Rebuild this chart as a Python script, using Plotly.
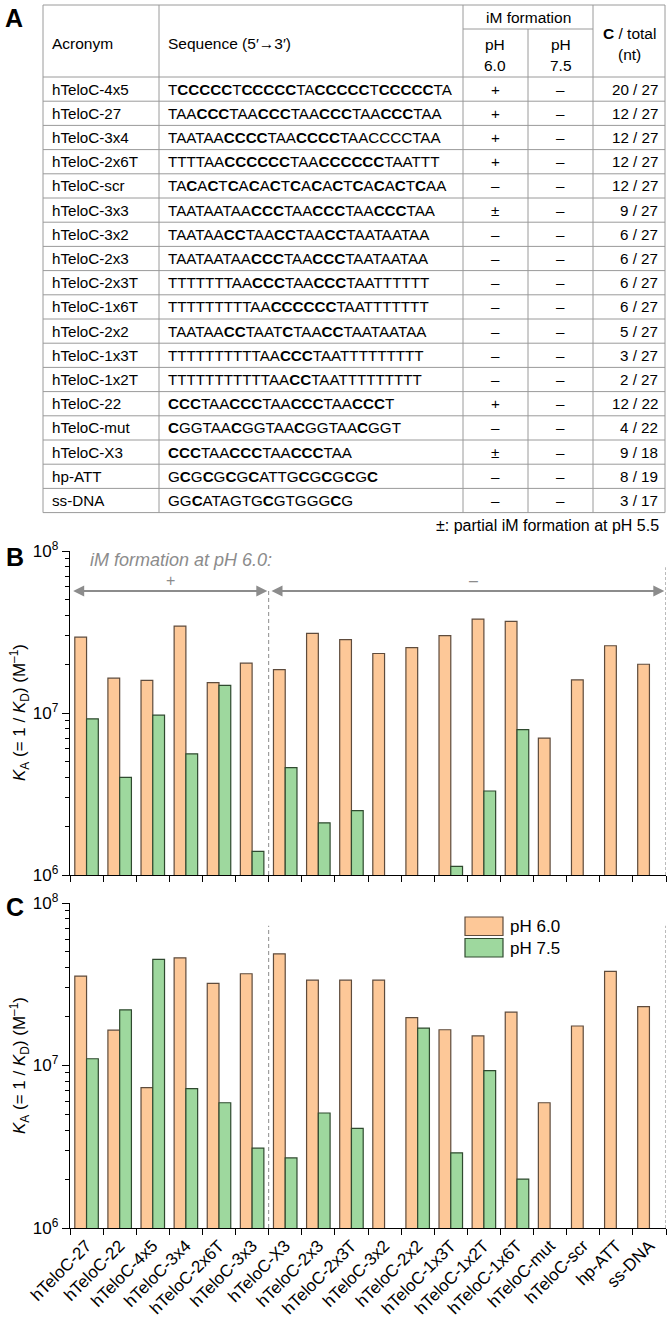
import plotly.graph_objects as go

W, H = 669, 1324

# ---------------- Panel A: table data ----------------
acronyms = ["hTeloC-4x5", "hTeloC-27", "hTeloC-3x4", "hTeloC-2x6T", "hTeloC-scr",
            "hTeloC-3x3", "hTeloC-3x2", "hTeloC-2x3", "hTeloC-2x3T", "hTeloC-1x6T",
            "hTeloC-2x2", "hTeloC-1x3T", "hTeloC-1x2T", "hTeloC-22", "hTeloC-mut",
            "hTeloC-X3", "hp-ATT", "ss-DNA"]
# {...} marks bold nucleotides
sequences = ["T{CCCCC}T{CCCCC}TA{CCCCC}T{CCCCC}TA",
             "TAA{CCC}TAA{CCC}TAA{CCC}TAA{CCC}TAA",
             "TAATAA{CCCC}TAA{CCCC}TAACCCCTAA",
             "TTTTAA{CCCCCC}TAA{CCCCCC}TAATTT",
             "TA{C}A{C}T{C}A{C}A{C}T{C}A{C}A{C}T{C}A{C}A{C}T{C}AA",
             "TAATAATAA{CCC}TAA{CCC}TAA{CCC}TAA",
             "TAATAA{CC}TAA{CC}TAA{CC}TAATAATAA",
             "TAATAATAA{CCC}TAA{CCC}TAATAATAA",
             "TTTTTTTAA{CCC}TAA{CCC}TAATTTTTT",
             "TTTTTTTTTAA{CCCCCC}TAATTTTTTT",
             "TAATAA{CC}TAAT{C}TAA{CC}TAATAATAA",
             "TTTTTTTTTTAA{CCC}TAATTTTTTTTT",
             "TTTTTTTTTTTAA{CC}TAATTTTTTTTT",
             "{CCC}TAA{CCC}TAA{CCC}TAA{CCC}T",
             "{C}GGTAA{C}GGTAA{C}GGTAA{C}GGT",
             "{CCC}TAA{CCC}TAA{CCC}TAA",
             "G{C}G{C}G{C}G{C}ATTG{C}G{C}G{C}G{C}",
             "GG{C}ATAGTG{C}GTGGG{C}G"]
im_ph60 = ["+", "+", "+", "+", "–", "±", "–", "–", "–", "–", "–", "–", "–", "+", "–", "±", "–", "–"]
im_ph75 = ["–"] * 18
c_total = ["20 / 27", "12 / 27", "12 / 27", "12 / 27", "12 / 27", "9 / 27", "6 / 27", "6 / 27",
           "6 / 27", "6 / 27", "5 / 27", "3 / 27", "2 / 27", "12 / 22", "4 / 22", "9 / 18",
           "8 / 19", "3 / 17"]

# ---------------- Panels B / C: bar data ----------------
categories = ["hTeloC-27", "hTeloC-22", "hTeloC-4x5", "hTeloC-3x4", "hTeloC-2x6T", "hTeloC-3x3",
              "hTeloC-X3", "hTeloC-2x3", "hTeloC-2x3T", "hTeloC-3x2", "hTeloC-2x2", "hTeloC-1x3T",
              "hTeloC-1x2T", "hTeloC-1x6T", "hTeloC-mut", "hTeloC-scr", "hp-ATT", "ss-DNA"]
b_ph60 = [2.94e7, 1.64e7, 1.59e7, 3.44e7, 1.54e7, 2.03e7, 1.85e7, 3.10e7, 2.84e7, 2.33e7,
          2.53e7, 3.00e7, 3.80e7, 3.68e7, 7.0e6, 1.60e7, 2.60e7, 2.00e7]
b_ph75 = [9.2e6, 4.0e6, 9.7e6, 5.6e6, 1.48e7, 1.4e6, 4.6e6, 2.1e6, 2.5e6, None,
          None, 1.13e6, 3.3e6, 7.9e6, None, None, None, None]
c_ph60 = [3.55e7, 1.65e7, 7.3e6, 4.6e7, 3.2e7, 3.67e7, 4.87e7, 3.35e7, 3.35e7, 3.35e7,
          1.97e7, 1.66e7, 1.52e7, 2.13e7, 5.9e6, 1.75e7, 3.8e7, 2.3e7]
c_ph75 = [1.1e7, 2.2e7, 4.5e7, 7.2e6, 5.9e6, 3.1e6, 2.7e6, 5.1e6, 4.1e6, None,
          1.7e7, 2.9e6, 9.3e6, 2.0e6, None, None, None, None]
series_names = ["pH 6.0", "pH 7.5"]
y_tickvals = [1e6, 1e7, 1e8]
y_ticktext = ["10<sup>6</sup>", "10<sup>7</sup>", "10<sup>8</sup>"]
minor_vals = [k * 10 ** e for e in (6, 7) for k in range(2, 10)]

# ---------------- styling ----------------
FONT = "Liberation Sans, Arial, Helvetica, sans-serif"
ORANGE, ORANGE_EDGE = "#FDC898", "#5e4b3c"
GREEN, GREEN_EDGE = "#9ED89E", "#2f4a2f"
GRID = "#9a9a9a"
ARROW = "#8c8c8c"
TS = 15.2  # table font size


def px(x):
    return x / W


def py(y):
    return 1 - y / H


fig = go.Figure()

# bars
for xa, ya, v60, v75 in (("x", "y", b_ph60, b_ph75), ("x2", "y2", c_ph60, c_ph75)):
    fig.add_trace(go.Bar(x=categories, y=v60, name=series_names[0], xaxis=xa, yaxis=ya,
                         marker=dict(color=ORANGE, line=dict(color=ORANGE_EDGE, width=1.2)),
                         showlegend=False))
    fig.add_trace(go.Bar(x=categories, y=v75, name=series_names[1], xaxis=xa, yaxis=ya,
                         marker=dict(color=GREEN, line=dict(color=GREEN_EDGE, width=1.2)),
                         showlegend=False))

X_DOM = [px(70), px(666)]
B_DOM = [py(875), py(551)]
C_DOM = [py(1228), py(903)]

xax = dict(type="category", range=[-0.5, len(categories) - 0.5], showline=True,
           linecolor="black", linewidth=1.4, ticks="outside", tickson="boundaries",
           ticklen=6, tickwidth=1.3, tickcolor="black", showgrid=False, zeroline=False,
           automargin=False, tickfont=dict(family=FONT, size=17, color="black"))
yax = dict(type="log", range=[6, 8], showline=True, linecolor="black", linewidth=1.4,
           ticks="outside", ticklen=7, tickwidth=1.3, tickcolor="black",
           tickvals=y_tickvals, ticktext=y_ticktext, showgrid=False, zeroline=False,
           automargin=False, tickfont=dict(family=FONT, size=17, color="black"),
           minor=dict(tickvals=minor_vals, ticks="outside", ticklen=4, tickwidth=1,
                      tickcolor="black", showgrid=False))

fig.update_layout(
    width=W, height=H, margin=dict(l=0, r=0, t=0, b=0),
    paper_bgcolor="white", plot_bgcolor="white",
    barmode="group", bargap=0.29, bargroupgap=0,
    font=dict(family=FONT, size=15, color="black"),
    xaxis=dict(xax, domain=X_DOM, anchor="y", showticklabels=False),
    yaxis=dict(yax, domain=B_DOM, anchor="x"),
    xaxis2=dict(xax, domain=X_DOM, anchor="y2", tickangle=-45),
    yaxis2=dict(yax, domain=C_DOM, anchor="x2"),
)

shapes = []
annots = []


def text(x, y, t, size=TS, xanchor="center", color="black", **kw):
    annots.append(dict(x=px(x), y=py(y), xref="paper", yref="paper", text=t, showarrow=False,
                       xanchor=xanchor, yanchor="middle",
                       font=dict(family=FONT, size=size, color=color), **kw))


def hline(x0, x1, y, color=GRID, width=1):
    shapes.append(dict(type="line", xref="paper", yref="paper", x0=px(x0), x1=px(x1),
                       y0=py(y), y1=py(y), line=dict(color=color, width=width)))


def vline(x, y0, y1, color=GRID, width=1):
    shapes.append(dict(type="line", xref="paper", yref="paper", x0=px(x), x1=px(x),
                       y0=py(y0), y1=py(y1), line=dict(color=color, width=width)))


# ---------------- table (panel A) ----------------
COLX = [43, 159, 463, 528, 593, 665]
T_TOP, IM_LINE, HDR_BOT, ROW_H = 5, 29, 77, 24.2
n = len(acronyms)
T_BOT = HDR_BOT + n * ROW_H

hline(COLX[0], COLX[-1], T_TOP)
hline(COLX[2], COLX[4], IM_LINE)
hline(COLX[0], COLX[-1], HDR_BOT)
for i in range(1, n + 1):
    hline(COLX[0], COLX[-1], HDR_BOT + i * ROW_H)
for cx in (COLX[0], COLX[1], COLX[2], COLX[4], COLX[5]):
    vline(cx, T_TOP, T_BOT)
vline(COLX[3], IM_LINE, T_BOT)

text(50, 43, "Acronym", size=15.5, xanchor="left")
text(166, 43, "Sequence (5′→3′)", size=15.5, xanchor="left")
text((COLX[2] + COLX[4]) / 2, 17, "iM formation", size=15.5)
text((COLX[2] + COLX[3]) / 2, 44, "pH", size=15.5)
text((COLX[2] + COLX[3]) / 2, 66, "6.0", size=15.5)
text((COLX[3] + COLX[4]) / 2, 44, "pH", size=15.5)
text((COLX[3] + COLX[4]) / 2, 66, "7.5", size=15.5)
text((COLX[4] + COLX[5]) / 2, 33, "<b>C</b> / total", size=15.5)
text((COLX[4] + COLX[5]) / 2, 54, "(nt)", size=15.5)

for i in range(n):
    yc = HDR_BOT + (i + 0.5) * ROW_H
    text(50, yc, acronyms[i], xanchor="left")
    text(166, yc, sequences[i].replace("{", "<b>").replace("}", "</b>"), xanchor="left")
    text((COLX[2] + COLX[3]) / 2, yc, im_ph60[i])
    text((COLX[3] + COLX[4]) / 2, yc, im_ph75[i])
    text(660, yc, c_total[i], xanchor="right")

text(661, T_BOT + 13, "±: partial iM formation at pH 5.5", size=16, xanchor="right")

# panel letters
text(14, 18, "<b>A</b>", size=25)
text(15, 557, "<b>B</b>", size=25)
text(15, 907, "<b>C</b>", size=25)

# y axis titles
ytitle = "<i>K</i><sub>A</sub> (= 1 / <i>K</i><sub>D</sub>) (M<sup>–1</sup>)"
text(19, 713, ytitle, size=17, textangle=-90)
text(19, 1066, ytitle, size=17, textangle=-90)

# ---------------- panel B group markers ----------------
ARROW_FR = (875 - 591) / (875 - 551)
shapes.append(dict(type="line", xref="x", yref="y domain", x0=5.5, x1=5.5, y0=0, y1=ARROW_FR,
                   line=dict(color=ARROW, width=1, dash="4px,3px")))
shapes.append(dict(type="line", xref="x", yref="y domain", x0=17.5, x1=17.5, y0=0, y1=0.95,
                   line=dict(color="#aaaaaa", width=1.6, dash="3px,2px")))
shapes.append(dict(type="line", xref="x2", yref="y2 domain", x0=5.5, x1=5.5, y0=0, y1=0.93,
                   line=dict(color=ARROW, width=1, dash="4px,3px")))
shapes.append(dict(type="line", xref="x2", yref="y2 domain", x0=17.5, x1=17.5, y0=0, y1=0.93,
                   line=dict(color="#aaaaaa", width=1.6, dash="3px,2px")))

for x0, x1 in ((-0.45, 5.46), (5.54, 17.45)):
    annots.append(dict(x=x1, y=ARROW_FR, xref="x", yref="y domain",
                       ax=x0, ay=ARROW_FR, axref="x", ayref="y domain",
                       text="", showarrow=True, arrowhead=2, arrowside="end+start",
                       arrowsize=1.1, arrowwidth=2, arrowcolor=ARROW))

text(88, 560, "<i>iM formation at pH 6.0:</i>", size=18, xanchor="left", color=ARROW)
text(170, 580, "+", size=16, color=ARROW)
text(473, 580, "–", size=16, color=ARROW)

# ---------------- legend (panel C) ----------------
for k, (fc, ec) in enumerate(((ORANGE, ORANGE_EDGE), (GREEN, GREEN_EDGE))):
    y0 = 917 + k * 21.5
    shapes.append(dict(type="rect", xref="paper", yref="paper", x0=px(465), x1=px(503),
                       y0=py(y0), y1=py(y0 + 18.5), fillcolor=fc,
                       line=dict(color=ec, width=1.2)))
    text(508, y0 + 9.5, series_names[k], size=17, xanchor="left")

fig.update_layout(shapes=shapes, annotations=annots)
fig.write_html("out.html", config={"displayModeBar": False},
               post_script="document.body.style.margin='0px';"
                           "document.body.style.overflow='hidden';")
